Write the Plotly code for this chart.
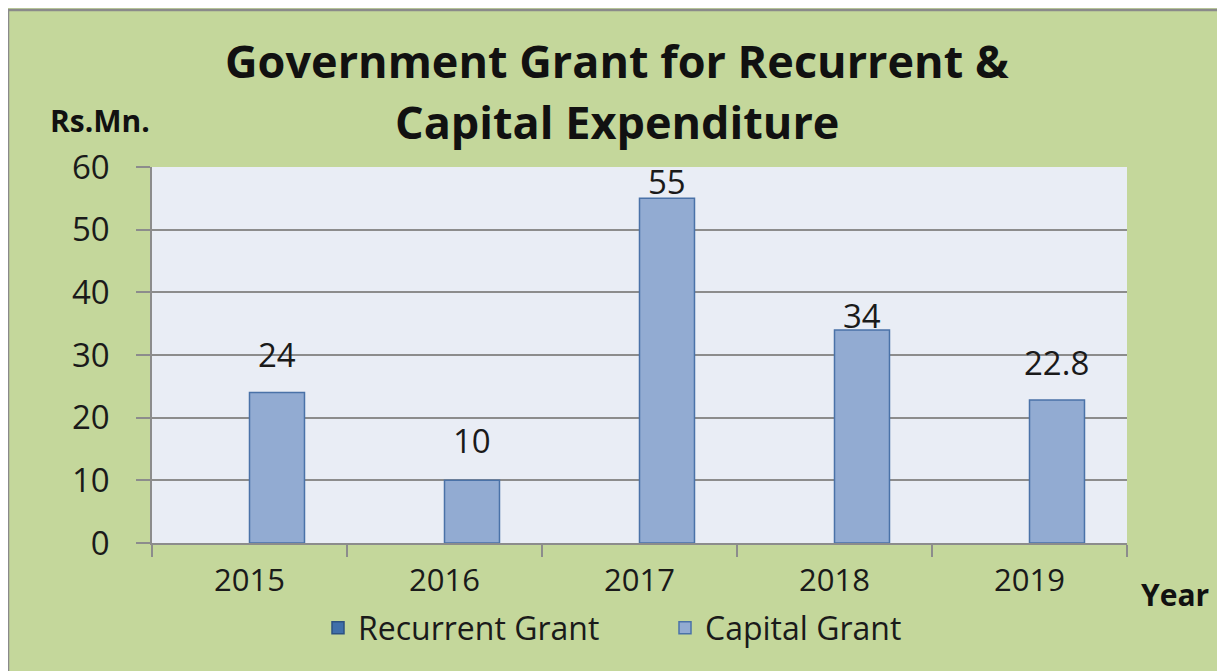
import plotly.graph_objects as go

years = ["2015", "2016", "2017", "2018", "2019"]
recurrent_grant = [None, None, None, None, None]
capital_grant = [24, 10, 55, 34, 22.8]
label_texts = ["24", "10", "55", "34", "22.8"]
y_ticks = [0, 10, 20, 30, 40, 50, 60]

# style-only offsets for the data labels (pixels above bar top)
label_yshift = [38, 40, 17, 14, 38]

FONT = "Open Sans"
GREEN = "#c4d79b"
PLOTBG = "#e9edf5"
GRID = "#8c8c8c"
TXT = "#1a1a1a"

fig = go.Figure()
fig.add_trace(go.Bar(name="Recurrent Grant", x=years, y=recurrent_grant,
                     marker=dict(color="#3f6faa", line=dict(color="#2c5282", width=1.5))))
fig.add_trace(go.Bar(name="Capital Grant", x=years, y=capital_grant,
                     marker=dict(color="#92abd2", line=dict(color="#4a72a8", width=1.5))))

# outer chart border
fig.add_shape(type="rect", xref="paper", yref="paper", x0=-0.1477, x1=1.2, y0=-0.5, y1=1.4176,
              fillcolor="rgba(0,0,0,0)", line=dict(color="#8a8a8a", width=2.5), layer="below")

def px(sx):
    return (sx - 152) / 975

def py(sy):
    return (543 - sy) / 376

annotations = []
for i, v in enumerate(capital_grant):
    annotations.append(dict(x=i, y=v, xref="x", yref="y", text=label_texts[i], showarrow=False,
                            xshift=27, yshift=label_yshift[i], xanchor="center", yanchor="middle",
                            font=dict(family=FONT, size=33, color=TXT)))

annotations += [
    dict(x=px(617), y=py(60), xref="paper", yref="paper", text="<b>Government Grant for Recurrent &</b>",
         showarrow=False, xanchor="center", yanchor="middle", font=dict(family=FONT, size=45, color="#111111")),
    dict(x=px(617), y=py(122), xref="paper", yref="paper", text="<b>Capital Expenditure</b>",
         showarrow=False, xanchor="center", yanchor="middle", font=dict(family=FONT, size=45, color="#111111")),
    dict(x=px(100), y=py(121), xref="paper", yref="paper", text="<b>Rs.Mn.</b>",
         showarrow=False, xanchor="center", yanchor="middle", font=dict(family=FONT, size=30, color="#111111")),
    dict(x=px(1175), y=py(594), xref="paper", yref="paper", text="<b>Year</b>",
         showarrow=False, xanchor="center", yanchor="middle", font=dict(family=FONT, size=30, color="#111111")),
]

fig.update_layout(
    width=1217, height=663,
    margin=dict(l=144, r=98, t=159, b=128),
    paper_bgcolor=GREEN,
    plot_bgcolor=PLOTBG,
    barmode="group",
    bargap=0.436,
    bargroupgap=0,
    showlegend=True,
    legend=dict(orientation="h", x=px(318), y=py(628), xanchor="left", yanchor="middle",
                font=dict(family=FONT, size=32, color=TXT), bgcolor="rgba(0,0,0,0)",
                entrywidth=302, entrywidthmode="pixels", tracegroupgap=0),
    annotations=annotations,
    font=dict(family=FONT, color=TXT),
)

fig.update_xaxes(type="category", range=[-0.5, len(years) - 0.5], showline=True, linecolor=GRID,
                 linewidth=1.5, ticks="outside", tickson="boundaries", ticklen=12, tickcolor=GRID,
                 tickwidth=1.5, ticklabelstandoff=9, showgrid=False,
                 tickfont=dict(family=FONT, size=31, color=TXT))
fig.update_yaxes(range=[0, 60], tickvals=y_ticks, showline=True, linecolor=GRID, linewidth=1.5,
                 ticks="outside", ticklen=14, tickcolor=GRID, tickwidth=1.5, ticklabelstandoff=20,
                 showgrid=True, gridcolor=GRID, gridwidth=1.5, zeroline=False,
                 tickfont=dict(family=FONT, size=33, color=TXT))

fig.write_html("out.html")
